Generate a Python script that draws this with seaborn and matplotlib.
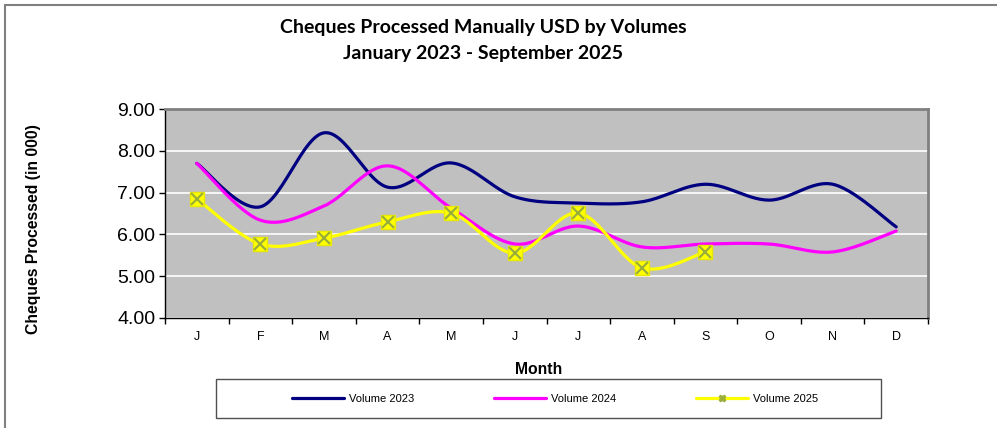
import matplotlib
matplotlib.use("Agg")
import matplotlib.pyplot as plt
import pandas as pd
import seaborn as sns
import numpy as np
from matplotlib.lines import Line2D
from matplotlib.patches import Rectangle

# data (in 000)
months = ['J', 'F', 'M', 'A', 'M', 'J', 'J', 'A', 'S', 'O', 'N', 'D']
vol_2023 = [7.70, 6.66, 8.43, 7.13, 7.71, 6.90, 6.75, 6.78, 7.20, 6.82, 7.20, 6.18]
vol_2024 = [7.70, 6.34, 6.68, 7.64, 6.63, 5.77, 6.20, 5.70, 5.77, 5.77, 5.58, 6.08]
vol_2025 = [6.85, 5.77, 5.91, 6.30, 6.51, 5.55, 6.51, 5.20, 5.58]
series_names = ['Volume 2023', 'Volume 2024', 'Volume 2025']
colors = ['#000080', '#FF00FF', '#FFFF00']


def smooth(vals, n=30):
    # excel-like smoothed line (bezier through the points)
    p = np.column_stack([np.arange(len(vals), dtype=float), vals])
    out = []
    t = np.linspace(0, 1, n)[:, None]
    for i in range(len(p) - 1):
        p0 = p[i - 1] if i > 0 else p[i]
        p3 = p[i + 2] if i + 2 < len(p) else p[i + 1]
        c1 = p[i] + (p[i + 1] - p0) / 6
        c2 = p[i + 1] - (p3 - p[i]) / 6
        seg = (1 - t)**3 * p[i] + 3 * (1 - t)**2 * t * c1 + 3 * (1 - t) * t**2 * c2 + t**3 * p[i + 1]
        out.append(seg if i == 0 else seg[1:])
    return np.vstack(out)


frames = []
for name, vals in zip(series_names, [vol_2023, vol_2024, vol_2025]):
    s = smooth(vals)
    frames.append(pd.DataFrame({'x': s[:, 0], 'y': s[:, 1], 'series': name}))
df = pd.concat(frames, ignore_index=True)

sns.set_style("white")
plt.rcParams['font.family'] = ['Liberation Sans', 'DejaVu Sans']
plt.rcParams['text.color'] = 'black'
plt.rcParams['xtick.color'] = 'black'
plt.rcParams['ytick.color'] = 'black'
plt.rcParams['xtick.labelcolor'] = 'black'
plt.rcParams['ytick.labelcolor'] = 'black'

fig = plt.figure(figsize=(9.97, 4.28), dpi=100)
ax = fig.add_axes([165 / 997, 110 / 428, 763 / 997, 209 / 428])
ax.set_facecolor('#C0C0C0')

sns.lineplot(data=df, x='x', y='y', hue='series', palette=colors, sort=False,
             estimator=None, linewidth=2.3, legend=False, ax=ax)

mx = np.arange(len(vol_2025))
ax.plot(mx, vol_2025, linestyle='none', marker='s', markersize=10,
        markerfacecolor='#FFFF00', markeredgecolor='#E8E800', zorder=5)
ax.plot(mx, vol_2025, linestyle='none', marker='x', markersize=9,
        markeredgewidth=1.6, color='#9AAF3A', zorder=6)

ax.set_xlim(-0.5, 11.5)
ax.set_ylim(4, 9)
ax.set_yticks(np.arange(4, 9.01, 1))
ax.set_yticklabels([f'{v:.2f}' for v in np.arange(4, 9.01, 1)], fontsize=14)
ax.set_xticks(np.arange(12))
ax.set_xticklabels(months, fontsize=9)
ax.set_xticks(np.arange(-0.5, 12, 1), minor=True)
ax.tick_params(axis='x', which='major', length=0, pad=9)
ax.tick_params(axis='x', which='minor', length=4, width=1, color='black', direction='out', bottom=True)
ax.tick_params(axis='y', length=4, width=1, color='black', direction='out', left=True, pad=3)
ax.yaxis.grid(True, color='white', linewidth=1.2)
ax.set_axisbelow(True)
ax.set_xlabel('')
ax.set_ylabel('')

for side in ['left', 'bottom']:
    ax.spines[side].set_color('black')
    ax.spines[side].set_linewidth(1)
for side in ['top', 'right']:
    ax.spines[side].set_color('#808080')
    ax.spines[side].set_linewidth(2)

fig.text(483 / 997, 1 - 28 / 428, 'Cheques Processed Manually USD by Volumes', ha='center', va='center',
         fontsize=14, fontweight='bold', family=['Lato', 'DejaVu Sans'])
fig.text(483 / 997, 1 - 54 / 428, 'January 2023 - September 2025', ha='center', va='center',
         fontsize=14, fontweight='bold', family=['Lato', 'DejaVu Sans'])
fig.text(539 / 997, 1 - 369 / 428, 'Month', ha='center', va='center', fontsize=11.3, fontweight='bold')
fig.text(34 / 997, 1 - 229 / 428, 'Cheques Processed (in 000)', ha='center', va='center',
         rotation=90, fontsize=11.3, fontweight='bold')

# chart border
fig.add_artist(Line2D([5 / 997, 5 / 997], [0, 1 - 5 / 428], color='#808080', linewidth=1.5))
fig.add_artist(Line2D([5 / 997, 1], [1 - 5 / 428, 1 - 5 / 428], color='#808080', linewidth=1.5))

# legend
fig.add_artist(Rectangle((216 / 997, 1 - 418 / 428), 665 / 997, 39 / 428, transform=fig.transFigure,
                         facecolor='white', edgecolor='#505050', linewidth=1))
handles = [
    Line2D([], [], color=colors[0], linewidth=2.3),
    Line2D([], [], color=colors[1], linewidth=2.3),
    Line2D([], [], color=colors[2], linewidth=2.3, marker='X', markersize=5,
           markerfacecolor='#9AAF3A', markeredgecolor='#9AAF3A'),
]
fig.legend(handles, series_names, loc='center', bbox_to_anchor=(555 / 997, 1 - 399 / 428),
           ncol=3, frameon=False, fontsize=8, handlelength=4.7, handletextpad=0.4,
           columnspacing=7.2)

fig.savefig('out.png', dpi=100)
